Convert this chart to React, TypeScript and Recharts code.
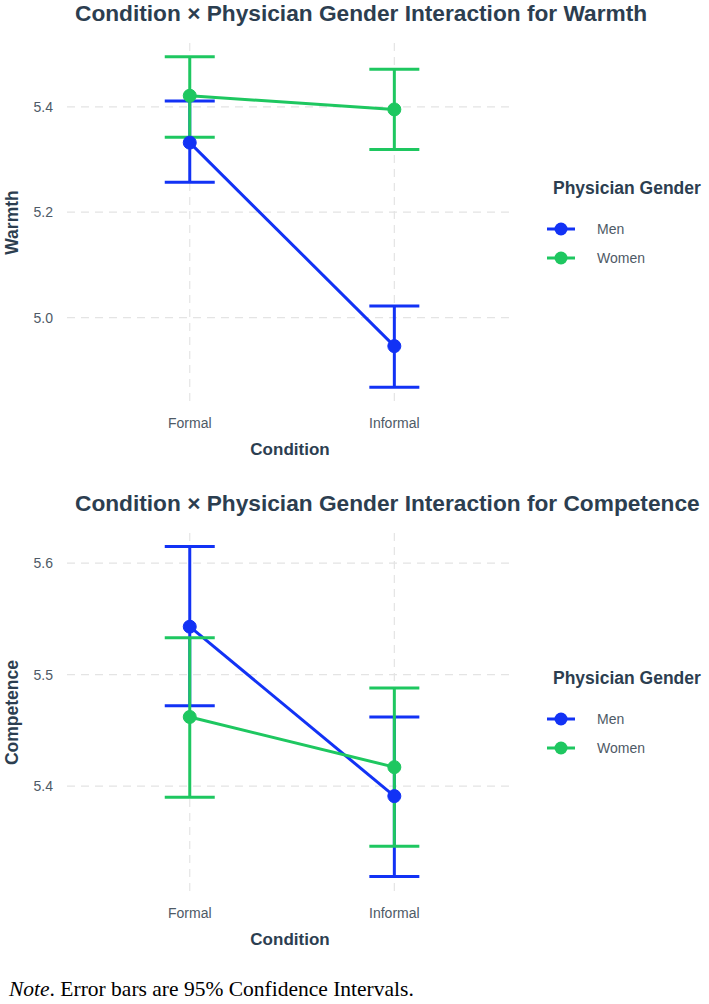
import React from 'react';
import { ComposedChart, Line, XAxis, YAxis, CartesianGrid, ErrorBar, Legend, Label } from 'recharts';

const conditions = ['Formal', 'Informal'];

// Warmth: cell means with 95% CI bounds
const warmthMen = [5.332, 4.946];
const warmthMenLow = [5.257, 4.868];
const warmthMenHigh = [5.411, 5.022];
const warmthWomen = [5.421, 5.395];
const warmthWomenLow = [5.342, 5.319];
const warmthWomenHigh = [5.495, 5.471];
const warmthTicks = [5.0, 5.2, 5.4];

// Competence: cell means with 95% CI bounds
const competenceMen = [5.543, 5.391];
const competenceMenLow = [5.472, 5.319];
const competenceMenHigh = [5.615, 5.462];
const competenceWomen = [5.462, 5.417];
const competenceWomenLow = [5.39, 5.346];
const competenceWomenHigh = [5.533, 5.488];
const competenceTicks = [5.4, 5.5, 5.6];

const FONT = '"Liberation Sans", Arial, Helvetica, sans-serif';
const INK = '#2c3e50';
const TICK_INK = '#4e5a66';
const GRID = '#e4e4e4';
const MEN_COLOR = '#1232f5';
const WOMEN_COLOR = '#1ec760';

const CHART_W = 709;
const CHART_H = 490;
const Y_AXIS_W = 60;
const X_AXIS_H = 60;
const PLOT = { left: 67, right: 513, top: 43, bottom: 402 };

const genders = [
  { key: 'men', name: 'Men', color: MEN_COLOR },
  { key: 'women', name: 'Women', color: WOMEN_COLOR },
];

function buildRows(
  men: number[], menLow: number[], menHigh: number[],
  women: number[], womenLow: number[], womenHigh: number[],
) {
  return conditions.map((c, i) => ({
    pos: i + 1,
    condition: c,
    men: men[i],
    menCI: [men[i] - menLow[i], menHigh[i] - men[i]],
    women: women[i],
    womenCI: [women[i] - womenLow[i], womenHigh[i] - women[i]],
  }));
}

const warmthRows = buildRows(warmthMen, warmthMenLow, warmthMenHigh, warmthWomen, warmthWomenLow, warmthWomenHigh);
const competenceRows = buildRows(
  competenceMen, competenceMenLow, competenceMenHigh,
  competenceWomen, competenceWomenLow, competenceWomenHigh,
);

const GenderLegend = () => (
  <div style={{ fontFamily: FONT }}>
    <div style={{ fontWeight: 700, fontSize: 17.5, lineHeight: '18px', color: INK, marginLeft: 6, whiteSpace: 'nowrap' }}>
      Physician Gender
    </div>
    <div style={{ marginTop: 17.5 }}>
      {genders.map((g) => (
        <div key={g.key} style={{ display: 'flex', alignItems: 'center', height: 29 }}>
          <svg width={28} height={14}>
            <line x1={0} x2={28} y1={7} y2={7} stroke={g.color} strokeWidth={3} />
            <circle cx={14} cy={7} r={6.5} fill={g.color} />
          </svg>
          <span style={{ marginLeft: 22, fontSize: 14, color: TICK_INK }}>{g.name}</span>
        </div>
      ))}
    </div>
  </div>
);

type PanelProps = {
  top: number;
  title: string;
  yLabel: string;
  rows: ReturnType<typeof buildRows>;
  domain: [number, number];
  ticks: number[];
};

function InteractionPanel({ top, title, yLabel, rows, domain, ticks }: PanelProps) {
  return (
    <div style={{ position: 'absolute', left: 0, top, width: CHART_W, height: CHART_H }}>
      <div
        style={{
          position: 'absolute', left: 75, top: -1, fontFamily: FONT, fontWeight: 700,
          fontSize: 22.7, lineHeight: '28px', color: INK, whiteSpace: 'nowrap',
        }}
      >
        {title}
      </div>
      <ComposedChart
        width={CHART_W}
        height={CHART_H}
        data={rows}
        margin={{
          top: PLOT.top,
          right: CHART_W - PLOT.right,
          bottom: CHART_H - PLOT.bottom - X_AXIS_H,
          left: PLOT.left - Y_AXIS_W,
        }}
      >
        {/* grid only at tick positions, no frame around the panel */}
        <CartesianGrid stroke={GRID} strokeDasharray="8 6" strokeWidth={1.2} syncWithTicks />
        <XAxis
          dataKey="pos"
          type="number"
          domain={[0.4, 2.58]}
          ticks={[1, 2]}
          tickFormatter={(v: number) => conditions[v - 1]}
          axisLine={false}
          tickLine={false}
          tickSize={0}
          tickMargin={16}
          height={X_AXIS_H}
          tick={{ fontSize: 14, fill: TICK_INK, fontFamily: FONT }}
        >
          <Label value="Condition" position="insideBottom" offset={7} fill={INK} fontSize={17} fontWeight={700} fontFamily={FONT} />
        </XAxis>
        <YAxis
          type="number"
          domain={domain}
          ticks={ticks}
          allowDataOverflow
          tickFormatter={(v: number) => v.toFixed(1)}
          axisLine={false}
          tickLine={false}
          tickSize={0}
          tickMargin={14}
          width={Y_AXIS_W}
          tick={{ fontSize: 14, fill: TICK_INK, fontFamily: FONT }}
        >
          <Label
            content={(props: any) => {
              const vb = props.viewBox;
              const cy = vb.y + vb.height / 2;
              return (
                <text
                  x={12}
                  y={cy}
                  transform={`rotate(-90, 12, ${cy})`}
                  textAnchor="middle"
                  dominantBaseline="central"
                  fill={INK}
                  fontSize={17.5}
                  fontWeight={700}
                  fontFamily={FONT}
                >
                  {yLabel}
                </text>
              );
            }}
          />
        </YAxis>
        <Legend
          layout="vertical"
          align="center"
          verticalAlign="middle"
          wrapperStyle={{ left: 547, top: 179, width: 160 }}
          content={() => <GenderLegend />}
        />
        {genders.map((g) => (
          <Line
            key={g.key}
            dataKey={g.key}
            name={g.name}
            stroke={g.color}
            strokeWidth={3}
            dot={{ r: 6.5, fill: g.color, stroke: g.color, strokeWidth: 1 }}
            activeDot={false}
            isAnimationActive={false}
          >
            <ErrorBar dataKey={`${g.key}CI`} direction="y" width={25} stroke={g.color} strokeWidth={3} isAnimationActive={false} />
          </Line>
        ))}
      </ComposedChart>
    </div>
  );
}

export default function App() {
  return (
    <div style={{ position: 'absolute', left: 0, top: 0, width: 709, height: 1004, background: '#fff' }}>
      <InteractionPanel
        top={0}
        title="Condition × Physician Gender Interaction for Warmth"
        yLabel="Warmth"
        rows={warmthRows}
        domain={[4.84, 5.521]}
        ticks={warmthTicks}
      />
      <InteractionPanel
        top={490}
        title="Condition × Physician Gender Interaction for Competence"
        yLabel="Competence"
        rows={competenceRows}
        domain={[5.305, 5.627]}
        ticks={competenceTicks}
      />
      <div
        style={{
          position: 'absolute', left: 9, top: 977, fontFamily: '"Liberation Serif", "Times New Roman", serif',
          fontSize: 21.5, lineHeight: '24px', color: '#000', whiteSpace: 'nowrap',
        }}
      >
        <i>Note</i>. Error bars are 95% Confidence Intervals.
      </div>
    </div>
  );
}
